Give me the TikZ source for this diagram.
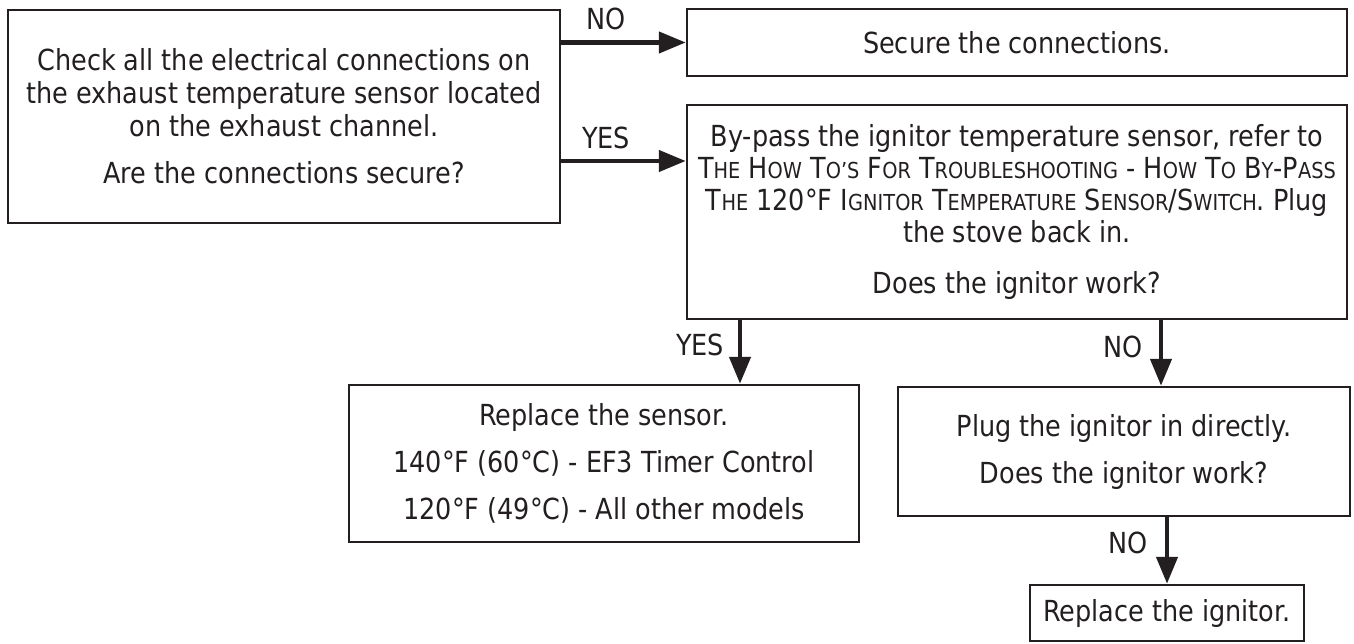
\documentclass[tikz,border=0pt]{standalone}
\usepackage{fontspec}
\setmainfont{DejaVu Sans}[FakeStretch=0.88]
\usetikzlibrary{arrows.meta,calc}
\definecolor{ink}{HTML}{231F20}
\newcommand\sm[1]{{\fontsize{22}{33}\selectfont #1}}
\begin{document}
\begin{tikzpicture}[x=1pt,y=-1pt,
  font=\fontsize{29}{33}\selectfont, text=ink,
  box/.style={draw=ink, line width=2.5pt, inner sep=0pt, align=center},
  arr/.style={draw=ink, line width=4.5pt, -{Triangle[length=27pt,width=21pt]}},
  lbl/.style={inner sep=0pt}]
\useasboundingbox (0,0) rectangle (1354,644);
\node[box, minimum width=552pt, minimum height=213pt] (A) at (284,116.5)
  {Check all the electrical connections on\\the exhaust temperature sensor located\\on the exhaust channel.\\[14pt]Are the connections secure?};
\node[box, minimum width=660pt, minimum height=67pt] (B) at (1017,42.5)
  {Secure the connections.};
\node[box, minimum width=660pt, minimum height=214pt] (C) at (1017,212)
  {By-pass the ignitor temperature sensor, refer to\\[-1pt]
   T\sm{HE} H\sm{OW} T\sm{O’S} F\sm{OR} T\sm{ROUBLESHOOTING} - H\sm{OW} T\sm{O} B\sm{Y}-P\sm{ASS}\\[-1pt]
   T\sm{HE} 120°F I\sm{GNITOR} T\sm{EMPERATURE} S\sm{ENSOR}/S\sm{WITCH}. Plug\\[-1pt]
   the stove back in.\\[18pt]Does the ignitor work?};
\node[box, minimum width=510pt, minimum height=157pt] (E) at (604,463.5)
  {Replace the sensor.\\[14pt]140°F (60°C) - EF3 Timer Control\\[14pt]120°F (49°C) - All other models};
\node[box, minimum width=452pt, minimum height=129pt] (D) at (1124,451.5)
  {Plug the ignitor in directly.\\[14pt]Does the ignitor work?};
\node[box, minimum width=274pt, minimum height=56pt] (F) at (1167,613)
  {Replace the ignitor.};
\coordinate (yh) at (0,161);
\coordinate (yv) at (740,0);
\coordinate (nv) at (1161,0);
\draw[arr] (A.east |- B.west) -- (B.west);
\draw[arr] (A.east |- yh) -- (C.west |- yh);
\draw[arr] (C.south -| yv) -- (E.north -| yv);
\draw[arr] (C.south -| nv) -- (D.north -| nv);
\draw[arr] (D.south -| F.north) -- (F.north);
\node[lbl] (l1) at (606,19) {NO};
\node[lbl] (l2) at (606,138) {YES};
\node[lbl] (l3) at (700,345) {YES};
\node[lbl] (l4) at (1123,347) {NO};
\node[lbl] (l5) at (1128,543) {NO};
\end{tikzpicture}
\end{document}
